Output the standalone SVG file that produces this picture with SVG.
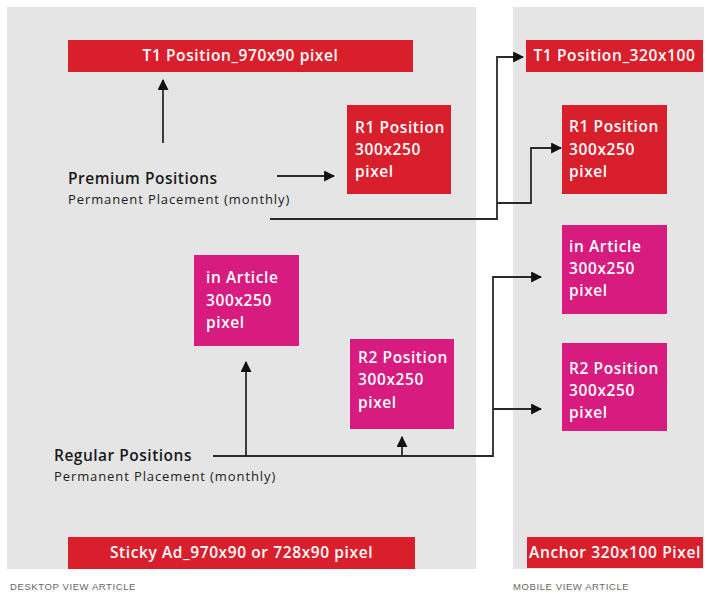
<svg xmlns="http://www.w3.org/2000/svg" width="707" height="594" viewBox="0 0 707 594">
<style>
.panel{fill:#e5e5e5}
.red{fill:#da1f2c}
.mag{fill:#d81b7e}
.bt{font-family:"Open Sans","Noto Sans",sans-serif;font-weight:600;font-size:15.5px;letter-spacing:0.6px;fill:#ffffff}
.lab{font-family:"Open Sans","Noto Sans",sans-serif;font-weight:600;font-size:15.5px;letter-spacing:0.5px;fill:#1a1a1a}
.sub{font-family:"Open Sans","Noto Sans",sans-serif;font-size:13px;letter-spacing:0.9px;fill:#222}
.cap{font-family:"Liberation Sans",sans-serif;font-size:9.5px;letter-spacing:0.6px;fill:#666}
.ln{fill:none;stroke:#2a2a2a;stroke-width:1.8}
</style>
<defs>
<marker id="ah" viewBox="0 0 10 10" refX="9" refY="5" markerWidth="11" markerHeight="11" markerUnits="userSpaceOnUse" orient="auto">
<path d="M0,0 L10,5 L0,10 Z" fill="#111"/>
</marker>
</defs>
<rect width="707" height="594" fill="#ffffff"/>
<rect class="panel" x="7" y="7" width="469" height="562"/>
<rect class="panel" x="513" y="7" width="191" height="562"/>

<g id="t1-desktop"><rect class="red" x="68" y="40" width="345" height="32"/><text class="bt" x="240.5" y="61" text-anchor="middle">T1 Position_970x90 pixel</text></g>
<g id="r1-desktop"><rect class="red" x="347" y="105" width="104" height="89"/><text class="bt"><tspan x="355" y="133">R1 Position</tspan><tspan x="355" y="155">300x250</tspan><tspan x="355" y="177">pixel</tspan></text></g>
<g id="premium"><text class="lab" x="68" y="184">Premium Positions</text><text class="sub" x="68" y="204">Permanent Placement (monthly)</text></g>
<g id="inarticle-desktop"><rect class="mag" x="194" y="255" width="105" height="91"/><text class="bt"><tspan x="206" y="283">in Article</tspan><tspan x="206" y="306">300x250</tspan><tspan x="206" y="328">pixel</tspan></text></g>
<g id="r2-desktop"><rect class="mag" x="350" y="339" width="104" height="90"/><text class="bt"><tspan x="358" y="363">R2 Position</tspan><tspan x="358" y="385">300x250</tspan><tspan x="358" y="408">pixel</tspan></text></g>
<g id="regular"><text class="lab" x="54" y="461">Regular Positions</text><text class="sub" x="54" y="481">Permanent Placement (monthly)</text></g>
<g id="sticky-desktop"><rect class="red" x="68" y="537" width="347" height="32"/><text class="bt" x="241.5" y="558" text-anchor="middle">Sticky Ad_970x90 or 728x90 pixel</text></g>
<g id="caption-desktop"><text class="cap" x="10" y="590">DESKTOP VIEW ARTICLE</text></g>

<g id="t1-mobile"><rect class="red" x="526" y="40" width="177" height="32"/><text class="bt" x="614.5" y="61" text-anchor="middle">T1 Position_320x100</text></g>
<g id="r1-mobile"><rect class="red" x="562" y="105" width="105" height="89"/><text class="bt"><tspan x="569" y="132">R1 Position</tspan><tspan x="569" y="155">300x250</tspan><tspan x="569" y="177">pixel</tspan></text></g>
<g id="inarticle-mobile"><rect class="mag" x="562" y="225" width="105" height="89"/><text class="bt"><tspan x="569" y="252">in Article</tspan><tspan x="569" y="274">300x250</tspan><tspan x="569" y="296">pixel</tspan></text></g>
<g id="r2-mobile"><rect class="mag" x="562" y="343" width="105" height="88"/><text class="bt"><tspan x="569" y="374">R2 Position</tspan><tspan x="569" y="396">300x250</tspan><tspan x="569" y="418">pixel</tspan></text></g>
<g id="anchor-mobile"><rect class="red" x="527" y="537" width="176" height="31"/><text class="bt" x="615" y="558" text-anchor="middle" textLength="172" lengthAdjust="spacingAndGlyphs">Anchor 320x100 Pixel</text></g>
<g id="caption-mobile"><text class="cap" x="513" y="590">MOBILE VIEW ARTICLE</text></g>

<g id="connectors">
<path class="ln" d="M163,143 V80" marker-end="url(#ah)"/>
<path class="ln" d="M277,176 H334" marker-end="url(#ah)"/>
<path class="ln" d="M270,219 H497 V57 H523" marker-end="url(#ah)"/>
<path class="ln" d="M497,203 H531 V148 H561" marker-end="url(#ah)"/>
<path class="ln" d="M213,456 H493 V277 H541" marker-end="url(#ah)"/>
<path class="ln" d="M493,409 H541" marker-end="url(#ah)"/>
<path class="ln" d="M246,456 V362" marker-end="url(#ah)"/>
<path class="ln" d="M402,456 V437" marker-end="url(#ah)"/>
</g>
</svg>
